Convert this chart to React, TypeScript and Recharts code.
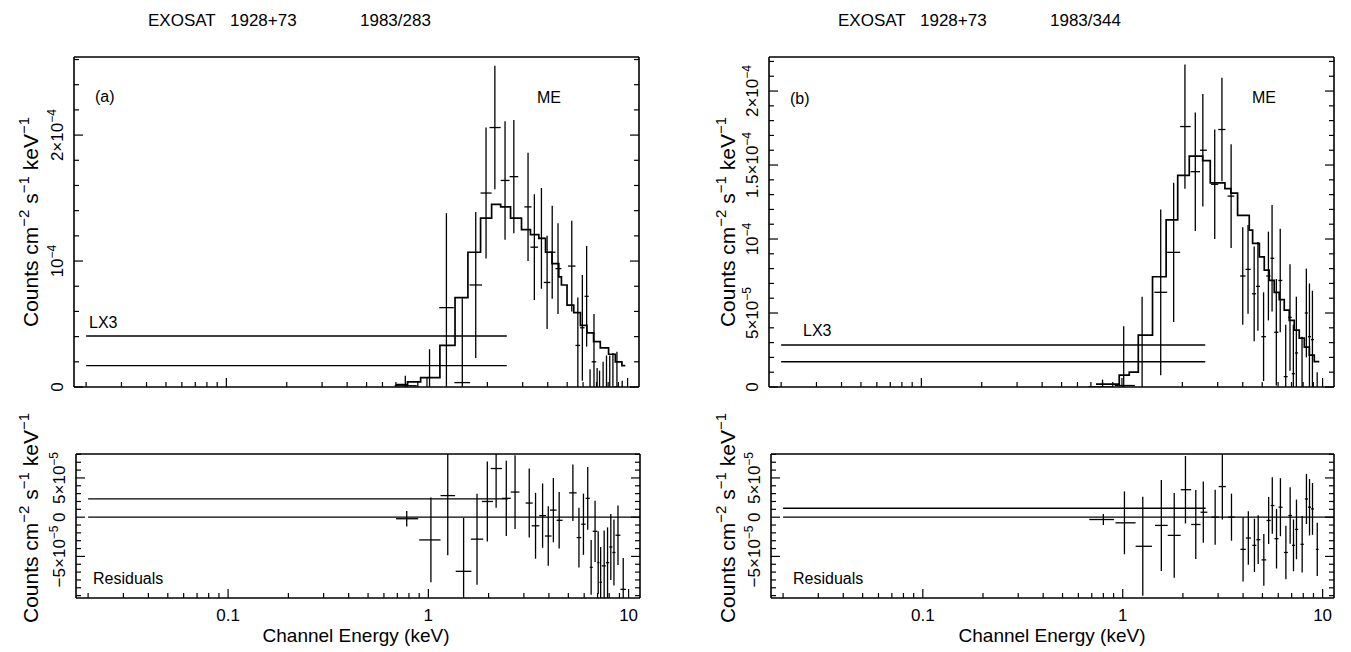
import React from 'react';
import { ComposedChart, Line, Scatter, XAxis, YAxis, ErrorBar } from 'recharts';

const FONT = '"Liberation Sans", Arial, Helvetica, sans-serif';

// energy axis (keV), log scale, shared by all panels
const X_MIN = 0.0174;
const X_MAX = 11.4;
const xTicks = [0.02, 0.03, 0.04, 0.05, 0.06, 0.07, 0.08, 0.09, 0.1, 0.2, 0.3, 0.4, 0.5, 0.6, 0.7, 0.8, 0.9, 1, 2, 3, 4, 5, 6, 7, 8, 9, 10];
const xMajor = [0.1, 1, 10];
const xMajorLabels = ['0.1', '1', '10'];

// spectra are in units of 1e-4, residuals in units of 1e-5
const yTicksTopA = [0, 0.2, 0.4, 0.6, 0.8, 1, 1.2, 1.4, 1.6, 1.8, 2, 2.2, 2.4, 2.6];
const yTicksTopB = [0, 0.1, 0.2, 0.3, 0.4, 0.5, 0.6, 0.7, 0.8, 0.9, 1, 1.1, 1.2, 1.3, 1.4, 1.5, 1.6, 1.7, 1.8, 1.9, 2, 2.1, 2.2];
const yTicksRes = [-10, -9, -8, -7, -6, -5, -4, -3, -2, -1, 0, 1, 2, 3, 4, 5, 6, 7, 8];

type YLabel = { v: number; text: string; sup?: string };
const yLabelsTopA: YLabel[] = [
  { v: 0, text: '0' },
  { v: 1, text: '10', sup: '−4' },
  { v: 2, text: '2×10', sup: '−4' },
];
const yLabelsTopB: YLabel[] = [
  { v: 0, text: '0' },
  { v: 0.5, text: '5×10', sup: '−5' },
  { v: 1, text: '10', sup: '−4' },
  { v: 1.5, text: '1.5×10', sup: '−4' },
  { v: 2, text: '2×10', sup: '−4' },
];
const yLabelsRes: YLabel[] = [
  { v: -5, text: '−5×10', sup: '−5' },
  { v: 0, text: '0' },
  { v: 5, text: '5×10', sup: '−5' },
];

// ---------- observation (a) 1983/283 ----------
// ME model, bin lower edges (last = upper edge of final bin)
const modelEdgesA = [0.70, 0.80, 0.93, 1.16, 1.38, 1.60, 1.85, 2.10, 2.33, 2.61, 2.96, 3.28, 3.61, 3.90, 4.20, 4.54, 4.68, 4.99, 5.39, 5.82, 6.27, 6.77, 7.31, 8.04, 8.69, 9.37, 9.74];
const modelValsA = [0.02, 0.04, 0.074, 0.33, 0.71, 1.07, 1.34, 1.45, 1.43, 1.34, 1.25, 1.21, 1.18, 1.07, 0.98, 0.875, 0.81, 0.65, 0.59, 0.49, 0.43, 0.36, 0.31, 0.26, 0.20, 0.17, 0.17];
// ME data points
const eA = [0.78, 1.03, 1.25, 1.50, 1.75, 1.97, 2.18, 2.45, 2.71, 3.19, 3.43, 3.72, 3.97, 4.21, 4.50, 5.27, 5.65, 5.95, 6.25, 6.50, 6.80, 7.05, 7.25, 7.55, 7.85, 8.15, 8.45, 8.85, 9.40];
const eLoA = [0.69, 0.90, 1.15, 1.37, 1.63, 1.85, 2.05, 2.33, 2.58, 3.06, 3.28, 3.58, 3.82, 4.05, 4.37, 5.05, 5.50, 5.80, 6.10, 6.40, 6.62, 6.98, 7.15, 7.35, 7.70, 8.00, 8.30, 8.60, 9.10];
const eHiA = [0.89, 1.15, 1.36, 1.64, 1.88, 2.10, 2.33, 2.58, 2.85, 3.32, 3.58, 3.87, 4.12, 4.37, 4.68, 5.50, 5.80, 6.10, 6.40, 6.62, 6.98, 7.15, 7.35, 7.70, 8.00, 8.30, 8.60, 9.10, 9.70];
const fluxA = [0.01, -0.30, 0.63, 0.035, 0.81, 1.54, 2.06, 1.64, 1.67, 1.43, 1.11, 1.18, 0.83, 1.07, 0.94, 0.96, 0.33, 0.47, 0.72, -0.21, 0.20, -0.25, -0.52, -0.30, -0.27, -0.10, -0.18, 0.0, -0.70];
const fluxErrA = [0.08, 0.60, 0.75, 0.67, 0.58, 0.52, 0.49, 0.47, 0.45, 0.43, 0.42, 0.40, 0.37, 0.37, 0.36, 0.36, 0.38, 0.42, 0.40, 0.35, 0.38, 0.40, 0.65, 0.50, 0.52, 0.35, 0.45, 0.28, 0.75];
const residA = [-0.2, -2.9, 2.75, -6.9, -2.8, 2.0, 6.2, 2.4, 3.2, 1.8, -1.1, 0.2, -2.4, 0.9, -0.4, 3.1, -2.6, -0.9, 2.4, -6.4, -1.8, -5.8, -8.3, -6.2, -5.8, -3.8, -4.5, -2.3, -9.2];
const residErrA = [1.0, 5.4, 7.6, 6.8, 5.8, 5.1, 5.0, 4.8, 4.7, 4.4, 4.2, 4.1, 3.8, 4.1, 3.6, 3.6, 3.8, 3.9, 4.0, 3.5, 3.9, 4.0, 4.5, 4.5, 4.5, 4.2, 4.2, 3.8, 4.0];
// LX3: one wide bin, data and model levels
const lx3RangeA = [0.02, 2.5];
const lx3DataA = 0.405;
const lx3ModelA = 0.17;
const lx3ResidA = 2.33;

// ---------- observation (b) 1983/344 ----------
const modelEdgesB = [0.742, 0.969, 1.087, 1.206, 1.42, 1.66, 1.896, 2.165, 2.525, 2.755, 3.26, 3.49, 3.77, 4.31, 4.48, 4.84, 5.12, 5.42, 5.74, 6.08, 6.44, 6.82, 7.22, 7.65, 8.11, 8.59, 9.09, 9.63];
const modelValsB = [0.02, 0.08, 0.10, 0.35, 0.745, 1.13, 1.43, 1.56, 1.53, 1.38, 1.34, 1.31, 1.16, 1.06, 0.97, 0.88, 0.79, 0.72, 0.64, 0.59, 0.52, 0.45, 0.385, 0.33, 0.27, 0.216, 0.171, 0.171];
const eB = [0.80, 1.02, 1.26, 1.56, 1.81, 2.06, 2.32, 2.53, 2.90, 3.15, 3.50, 4.00, 4.25, 4.56, 4.76, 5.08, 5.37, 5.60, 5.88, 6.15, 6.55, 6.88, 7.15, 7.40, 7.90, 8.30, 8.60, 8.90, 9.40];
const eLoB = [0.68, 0.92, 1.16, 1.45, 1.68, 1.95, 2.20, 2.45, 2.78, 3.02, 3.36, 3.88, 4.13, 4.45, 4.66, 4.95, 5.24, 5.50, 5.74, 6.02, 6.40, 6.74, 7.02, 7.28, 7.75, 8.15, 8.45, 8.75, 9.25];
const eHiB = [0.905, 1.16, 1.40, 1.68, 1.95, 2.20, 2.45, 2.65, 3.02, 3.28, 3.63, 4.13, 4.38, 4.66, 4.88, 5.22, 5.50, 5.74, 6.02, 6.30, 6.70, 7.02, 7.28, 7.55, 8.05, 8.45, 8.75, 9.05, 9.55];
const fluxB = [0.0, 0.01, -0.02, 0.64, 0.91, 1.76, 1.455, 1.60, 1.37, 1.74, 1.29, 0.75, 0.795, 0.63, 0.68, 0.34, 0.75, 0.87, 0.37, 0.72, 0.07, 0.47, 0.09, 0.23, -0.02, 0.50, 0.34, 0.32, -0.24];
const fluxErrB = [0.05, 0.40, 0.63, 0.56, 0.47, 0.42, 0.40, 0.38, 0.37, 0.35, 0.35, 0.33, 0.30, 0.32, 0.30, 0.30, 0.30, 0.36, 0.36, 0.35, 0.35, 0.36, 0.33, 0.38, 0.36, 0.30, 0.36, 0.33, 0.34];
const residB = [-0.3, -0.72, -3.71, -1.05, -2.32, 3.5, -0.93, 0.63, 0.0, 3.9, 0.0, -4.1, -2.66, -3.59, -2.87, -5.44, -0.42, 1.48, -2.74, 1.27, -4.5, 0.21, -3.59, -1.56, -3.46, 2.32, 1.27, 1.05, -4.1];
const residErrB = [0.7, 4.0, 6.3, 5.8, 5.4, 4.3, 4.4, 3.9, 3.5, 4.2, 3.0, 4.1, 3.4, 3.4, 3.1, 3.3, 3.0, 3.6, 3.8, 3.7, 3.4, 3.6, 3.3, 3.8, 3.6, 3.2, 3.6, 3.3, 3.4];
const lx3RangeB = [0.02, 2.6];
const lx3DataB = 0.284;
const lx3ModelB = 0.171;
const lx3ResidB = 1.13;

// ---------- helpers ----------
type XY = { x: number; y: number };
type Pt = { x: number; y: number; ex: [number, number]; ey: number };
type Box = { left: number; top: number; width: number; height: number };

const toStep = (edges: number[], vals: number[]): XY[] => edges.map((x, i) => ({ x, y: vals[i] }));
const toPoints = (e: number[], lo: number[], hi: number[], v: number[], err: number[]): Pt[] =>
  e.map((x, i) => ({ x, y: v[i], ex: [x - lo[i], hi[i] - x], ey: err[i] }));
const hLine = (range: number[], y: number): XY[] => [{ x: range[0], y }, { x: range[1], y }];

const PAD_L = 60;
const PAD_R = 20;
const PAD_T = 10;
const PAD_B = 40;

function xTick(side: 'bottom' | 'top', labels: boolean) {
  return (p: any) => {
    const { x, y, payload } = p;
    const i = xMajor.findIndex((m) => Math.abs(m - payload.value) < 1e-9);
    const len = i >= 0 ? 9 : 5;
    const d = side === 'bottom' ? -1 : 1;
    return (
      <g>
        <line x1={x} y1={y} x2={x} y2={y + d * len} stroke="#000" strokeWidth={1.2} />
        {labels && i >= 0 && (
          <text x={x} y={y + 23} textAnchor="middle" fontSize={17} fontFamily={FONT} fill="#000">
            {xMajorLabels[i]}
          </text>
        )}
      </g>
    );
  };
}

function yTick(side: 'left' | 'right', labels: YLabel[], show: boolean) {
  return (p: any) => {
    const { x, y, payload } = p;
    const lab = labels.find((l) => Math.abs(l.v - payload.value) < 1e-9);
    const len = lab ? 9 : 5;
    const d = side === 'left' ? 1 : -1;
    const bx = x - 11;
    return (
      <g>
        <line x1={x} y1={y} x2={x + d * len} y2={y} stroke="#000" strokeWidth={1.2} />
        {show && lab && (
          <text x={bx} y={y} transform={`rotate(-90 ${bx} ${y})`} textAnchor="middle" fontSize={17} fontFamily={FONT} fill="#000">
            {lab.text}
            {lab.sup ? <tspan dy={-7} fontSize={12}>{lab.sup}</tspan> : null}
          </text>
        )}
      </g>
    );
  };
}

const NoDot = () => <g />;

function Axes({ yDomain, yTicks, yLabels, xLabels, bare }: {
  yDomain: [number, number]; yTicks: number[]; yLabels: YLabel[]; xLabels: boolean; bare: boolean;
}) {
  const axisLine = bare ? false : { stroke: '#000', strokeWidth: 1.6 };
  return [
    <XAxis key="xb" xAxisId="b" dataKey="x" type="number" scale="log" domain={[X_MIN, X_MAX]} allowDataOverflow
      ticks={xTicks} interval={0} tickSize={0} tickMargin={0} tickLine={false} axisLine={axisLine}
      tick={bare ? false : xTick('bottom', xLabels)} height={PAD_B} />,
    <XAxis key="xt" xAxisId="t" orientation="top" type="number" scale="log" domain={[X_MIN, X_MAX]} allowDataOverflow
      ticks={xTicks} interval={0} tickSize={0} tickMargin={0} tickLine={false} axisLine={axisLine}
      tick={bare ? false : xTick('top', false)} height={PAD_T} />,
    <YAxis key="yl" yAxisId="l" type="number" domain={yDomain} allowDataOverflow ticks={yTicks} interval={0}
      tickSize={0} tickMargin={0} tickLine={false} axisLine={axisLine}
      tick={bare ? false : yTick('left', yLabels, true)} width={PAD_L} />,
    <YAxis key="yr" yAxisId="r" orientation="right" type="number" domain={yDomain} allowDataOverflow ticks={yTicks} interval={0}
      tickSize={0} tickMargin={0} tickLine={false} axisLine={axisLine}
      tick={bare ? false : yTick('right', yLabels, false)} width={PAD_R} />,
  ];
}

function Panel(props: {
  box: Box;
  yDomain: [number, number];
  yTicks: number[];
  yLabels: YLabel[];
  xLabels: boolean;
  step?: XY[];
  segments: XY[][];
  points: Pt[];
}) {
  const { box, yDomain, yTicks, yLabels, xLabels, step, segments, points } = props;
  const W = box.width + PAD_L + PAD_R;
  const H = box.height + PAD_T + PAD_B;
  const pos = { position: 'absolute' as const, left: box.left - PAD_L, top: box.top - PAD_T, width: W, height: H };
  const axProps = { yDomain, yTicks, yLabels, xLabels };
  return (
    <>
      <div style={pos}>
        <ComposedChart width={W} height={H} margin={{ top: 0, right: 0, bottom: 0, left: 0 }}>
          {Axes({ ...axProps, bare: false })}
          {segments.map((seg, i) => (
            <Line key={'seg' + i} xAxisId="b" yAxisId="l" data={seg} dataKey="y" type="linear"
              stroke="#000" strokeWidth={1.4} dot={false} isAnimationActive={false} />
          ))}
          {step && (
            <Line xAxisId="b" yAxisId="l" data={step} dataKey="y" type="stepAfter"
              stroke="#000" strokeWidth={1.7} dot={false} isAnimationActive={false} />
          )}
        </ComposedChart>
      </div>
      {/* error-bar crosses, clipped to the plotting frame */}
      <div style={{ ...pos, clipPath: `inset(${PAD_T}px ${PAD_R}px ${PAD_B}px ${PAD_L}px)` }}>
        <ComposedChart width={W} height={H} margin={{ top: 0, right: 0, bottom: 0, left: 0 }}>
          {Axes({ ...axProps, bare: true })}
          <Scatter xAxisId="b" yAxisId="l" data={points} dataKey="y" shape={NoDot} isAnimationActive={false}>
            <ErrorBar dataKey="ex" direction="x" width={0} stroke="#000" strokeWidth={1.3} />
            <ErrorBar dataKey="ey" direction="y" width={0} stroke="#000" strokeWidth={1.3} />
          </Scatter>
        </ComposedChart>
      </div>
    </>
  );
}

function YTitle({ x, y }: { x: number; y: number }) {
  return (
    <text x={x} y={y} transform={`rotate(-90 ${x} ${y})`} textAnchor="middle" fontSize={21} fontFamily={FONT} fill="#000">
      Counts cm<tspan dy={-9} fontSize={15}>−2</tspan>
      <tspan dy={9}> s</tspan><tspan dy={-9} fontSize={15}>−1</tspan>
      <tspan dy={9}> keV</tspan><tspan dy={-9} fontSize={15}>−1</tspan>
    </text>
  );
}

export default function App() {
  const txt = { fontFamily: FONT, fill: '#000' };
  return (
    <div style={{ position: 'absolute', left: 0, top: 0, width: 1351, height: 652, background: '#fff', overflow: 'hidden' }}>
      <Panel
        box={{ left: 74, top: 57, width: 565, height: 330 }}
        yDomain={[0, 2.62]} yTicks={yTicksTopA} yLabels={yLabelsTopA} xLabels={false}
        step={toStep(modelEdgesA, modelValsA)}
        segments={[hLine(lx3RangeA, lx3DataA), hLine(lx3RangeA, lx3ModelA)]}
        points={toPoints(eA, eLoA, eHiA, fluxA, fluxErrA)}
      />
      <Panel
        box={{ left: 76, top: 454, width: 564, height: 144 }}
        yDomain={[-10.3, 8.05]} yTicks={yTicksRes} yLabels={yLabelsRes} xLabels={true}
        segments={[hLine(lx3RangeA, lx3ResidA), hLine([lx3RangeA[0], X_MAX], 0)]}
        points={toPoints(eA, eLoA, eHiA, residA, residErrA)}
      />
      <Panel
        box={{ left: 769, top: 57, width: 565, height: 330 }}
        yDomain={[0, 2.23]} yTicks={yTicksTopB} yLabels={yLabelsTopB} xLabels={false}
        step={toStep(modelEdgesB, modelValsB)}
        segments={[hLine(lx3RangeB, lx3DataB), hLine(lx3RangeB, lx3ModelB)]}
        points={toPoints(eB, eLoB, eHiB, fluxB, fluxErrB)}
      />
      <Panel
        box={{ left: 771, top: 454, width: 563, height: 144 }}
        yDomain={[-10.3, 8.05]} yTicks={yTicksRes} yLabels={yLabelsRes} xLabels={true}
        segments={[hLine(lx3RangeB, lx3ResidB), hLine([lx3RangeB[0], X_MAX], 0)]}
        points={toPoints(eB, eLoB, eHiB, residB, residErrB)}
      />
      <svg width={1351} height={652} style={{ position: 'absolute', left: 0, top: 0, pointerEvents: 'none' }}>
        <g fontSize={17} {...txt}>
          <text x={148} y={26}>EXOSAT</text>
          <text x={230} y={26}>1928+73</text>
          <text x={360} y={26}>1983/283</text>
          <text x={838} y={26}>EXOSAT</text>
          <text x={920} y={26}>1928+73</text>
          <text x={1050} y={26}>1983/344</text>
        </g>
        <g fontSize={16} {...txt}>
          <text x={95} y={102}>(a)</text>
          <text x={790} y={104}>(b)</text>
          <text x={537} y={103}>ME</text>
          <text x={1252} y={103}>ME</text>
          <text x={89} y={328}>LX3</text>
          <text x={803} y={336}>LX3</text>
          <text x={93} y={584}>Residuals</text>
          <text x={793} y={584}>Residuals</text>
        </g>
        <g fontSize={19} {...txt}>
          <text x={356} y={642} textAnchor="middle">Channel Energy (keV)</text>
          <text x={1052} y={642} textAnchor="middle">Channel Energy (keV)</text>
        </g>
        <YTitle x={38} y={222} />
        <YTitle x={38} y={518} />
        <YTitle x={735} y={222} />
        <YTitle x={735} y={518} />
      </svg>
    </div>
  );
}
